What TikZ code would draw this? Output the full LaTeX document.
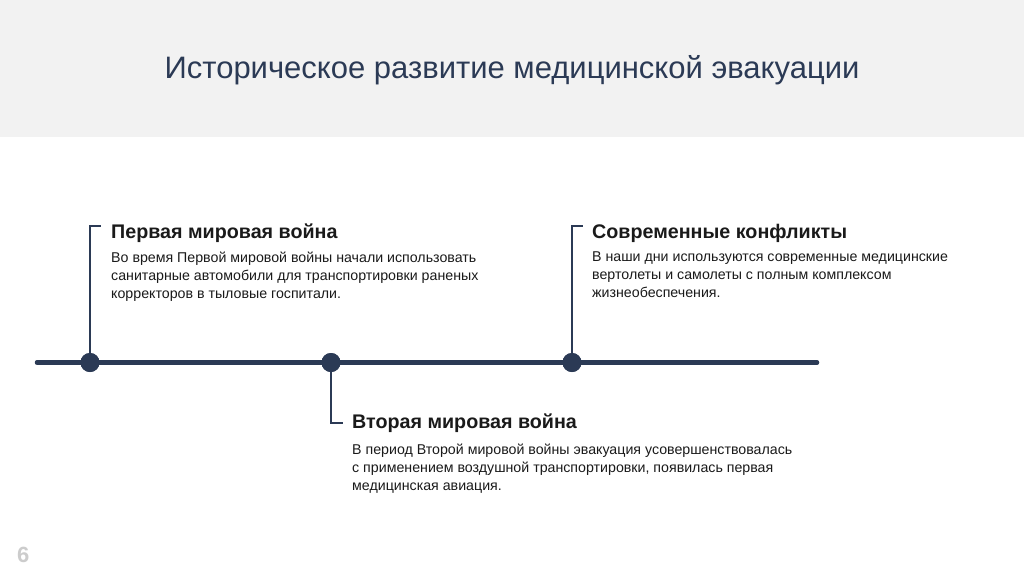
\documentclass[tikz,border=0pt]{standalone}
\usepackage{fontspec}
\setmainfont{Liberation Sans}
\definecolor{navy}{HTML}{2B3A55}
\definecolor{band}{HTML}{F2F2F2}
\definecolor{txt}{HTML}{1A1A1A}
\begin{document}
\begin{tikzpicture}[x=1pt,y=-1pt,
  head/.style={anchor=base west,inner sep=0pt,font=\fontsize{19.7}{22}\selectfont\bfseries,text=txt},
  body/.style={anchor=north west,inner sep=0pt,align=left,font=\fontsize{14.2}{18}\selectfont,text=txt},
  tline/.style={draw=navy,line width=4.5pt,line cap=round},
  stem/.style={draw=navy,line width=2.8pt},
  dot/.style={circle,fill=navy,minimum size=19pt,inner sep=0pt}]
\useasboundingbox (0,0) rectangle (1024,574);
\fill[white] (0,0) rectangle (1024,574);
\fill[band] (0,0) rectangle (1024,137);
\node[inner sep=0pt,text=navy,font=\fontsize{31}{36}\selectfont] (title) at (512,70) {Историческое развитие медицинской эвакуации};
% timeline
\coordinate (L) at (37,362.5);
\coordinate (R) at (817,362.5);
\draw[tline] (L) -- (R);
\node[dot] (d1) at (90,362.5) {};
\node[dot] (d2) at (331,362.5) {};
\node[dot] (d3) at (572,362.5) {};
\coordinate (t1) at (90,226);
\coordinate (e1) at (101,226);
\coordinate (t2) at (331,423);
\coordinate (e2) at (343,423);
\coordinate (t3) at (572,226);
\coordinate (e3) at (583,226);
\draw[stem] (d1.center) -- (t1) -- (e1);
\draw[stem] (d2.center) -- (t2) -- (e2);
\draw[stem] (d3.center) -- (t3) -- (e3);
\node[dot] at (d1) {};
\node[dot] at (d2) {};
\node[dot] at (d3) {};
% texts
\node[head] (h1) at (111,238) {Первая мировая война};
\node[body] (b1) at (111,252) {Во время Первой мировой войны начали использовать\\санитарные автомобили для транспортировки раненых\\корректоров в тыловые госпитали.};
\node[head] (h2) at (352,428) {Вторая мировая война};
\node[body] (b2) at (352,444) {В период Второй мировой войны эвакуация усовершенствовалась\\с применением воздушной транспортировки, появилась первая\\медицинская авиация.};
\node[head] (h3) at (592,238) {Современные конфликты};
\node[body] (b3) at (592,252) {В наши дни используются современные медицинские\\вертолеты и самолеты с полным комплексом\\жизнеобеспечения.};
\node[anchor=base west,inner sep=0pt,text=black!20,font=\fontsize{22}{24}\selectfont\bfseries] (pg) at (17,562) {6};
\end{tikzpicture}
\end{document}
